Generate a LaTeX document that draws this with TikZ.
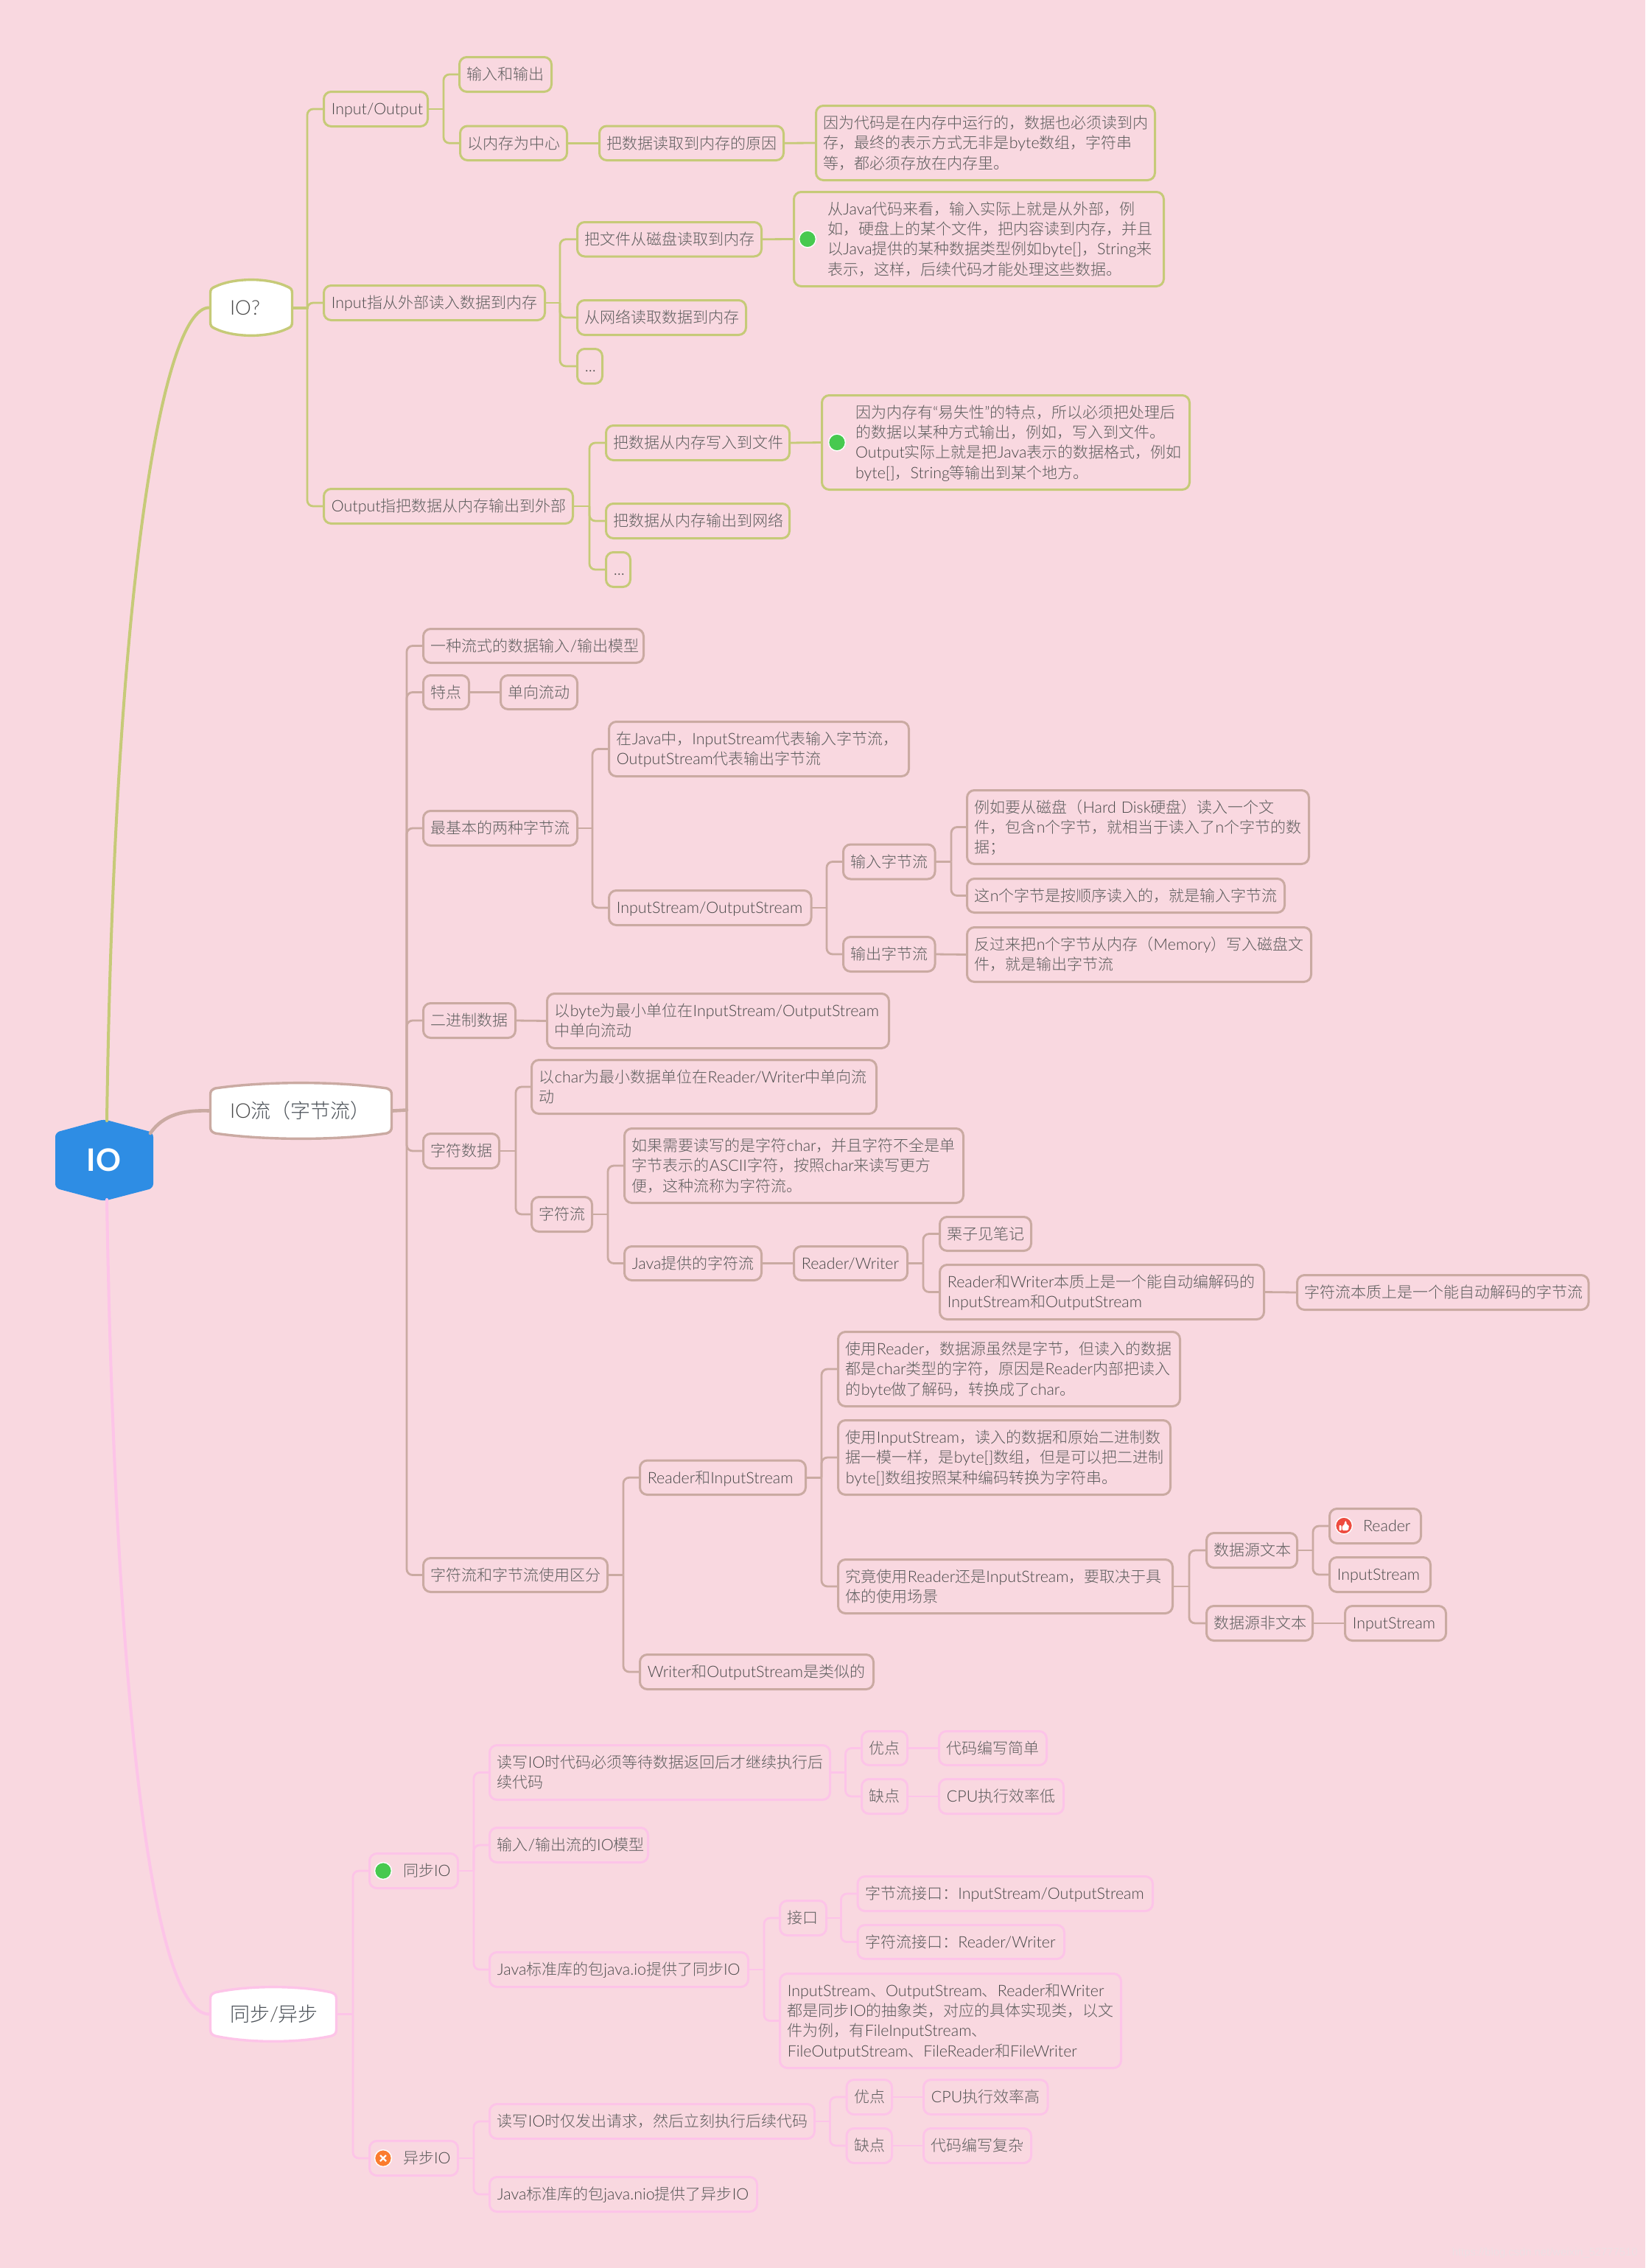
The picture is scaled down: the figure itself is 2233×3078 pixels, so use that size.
\documentclass[tikz,border=0pt]{standalone}
\usepackage{fontspec}
\setmainfont{Noto Sans CJK SC Light}
\newfontfamily\latf[Scale=1.02]{Lato Light}
\newfontfamily\latb{Lato}
\newfontfamily\wmf{Liberation Sans}
\definecolor{latcol}{HTML}{484848}
\newcommand\la[1]{{\latf\color{latcol}#1}}
\newcommand\ind{\hspace*{17.6pt}}
\hyphenpenalty=10000 \exhyphenpenalty=10000 \tolerance=9999 \hbadness=10000 \hfuzz=200pt
\definecolor{bgpink}{HTML}{F9D8E0}
\definecolor{mapgreen}{HTML}{C6CA78}
\definecolor{mapbrown}{HTML}{CAAAA2}
\definecolor{mappink}{HTML}{FDC4E8}
\definecolor{txt}{HTML}{5E5E5E}
\definecolor{toptxt}{HTML}{4B5158}
\definecolor{dotgreen}{HTML}{47C94F}
\definecolor{dotred}{HTML}{EE4B3F}
\definecolor{dotorange}{HTML}{FB7C2E}
\definecolor{hexblue}{HTML}{2E8DE4}
\definecolor{wmark}{HTML}{EEDFE4}
\newcommand\mystrut{\rule[-2.9pt]{0pt}{13.6pt}}
\tikzset{
  box/.style={draw=\cc,line width=1.5pt,rounded corners=5pt,inner ysep=0pt,inner xsep=5.2pt,outer sep=0pt,
    align=left,text=txt,font=\fontsize{10.5}{13.6}\selectfont,
    execute at begin node={\mystrut},execute at end node={\mystrut}},
  conn/.style={draw=\cc,line width=1.4pt},
  rootlink/.style={draw=\cc,line width=2pt,line cap=round},
  topicshape/.style={draw=\cc,fill=white,line width=1.7pt},
  topic/.style={inner ysep=0pt,inner xsep=14pt,outer sep=0pt,align=left,text=toptxt,
    font=\fontsize{13.5}{16}\selectfont},
  dot/.style={draw=white,line width=0.7pt},
}
% box: name, x1,y1,x2,y2, text (outer edges, in reference pixels)
\newcommand\bx[6]{%
  \pgfmathsetmacro\bxw{(#4-#2-3)*0.5-10.4}%
  \pgfmathsetmacro\bxh{(#5-#3-3)*0.5}%
  \pgfmathsetmacro\bxcx{(#2+#4)/2}%
  \pgfmathsetmacro\bxcy{(#3+#5)/2}%
  \node[box,text width=\bxw pt,minimum height=\bxh pt] (#1) at (\bxcx,\bxcy) {#6};}
% topic: name, x1,y1,x2,y2,c, text
\newcommand\tp[7]{%
  \pgfmathsetmacro\bxw{(#4-#2)*0.5-28}%
  \pgfmathsetmacro\bxh{(#5-#3)*0.5}%
  \pgfmathsetmacro\bxcx{(#2+#4)/2}%
  \pgfmathsetmacro\bxcy{(#3+#5)/2}%
  \draw[topicshape]
    ({#2+1.5},{#3+#6+8}) .. controls ({#2+1.5},{#3+#6+3}) and ({#2+3},{#3+#6+1}) .. ({#2+8},{#3+#6-1})
    .. controls ({#2+0.3*(#4-#2)},{#3+1.5-(#6-3)/3}) and ({#4-0.3*(#4-#2)},{#3+1.5-(#6-3)/3}) .. ({#4-8},{#3+#6-1})
    .. controls ({#4-3},{#3+#6+1}) and ({#4-1.5},{#3+#6+3}) .. ({#4-1.5},{#3+#6+8})
    -- ({#4-1.5},{#5-#6-8})
    .. controls ({#4-1.5},{#5-#6-3}) and ({#4-3},{#5-#6-1}) .. ({#4-8},{#5-#6+1})
    .. controls ({#4-0.3*(#4-#2)},{#5-1.5+(#6-3)/3}) and ({#2+0.3*(#4-#2)},{#5-1.5+(#6-3)/3}) .. ({#2+8},{#5-#6+1})
    .. controls ({#2+3},{#5-#6-1}) and ({#2+1.5},{#5-#6-3}) .. ({#2+1.5},{#5-#6-8}) -- cycle;
  \node[topic,text width=\bxw pt,minimum height=\bxh pt] (#1) at (\bxcx,\bxcy) {#7};}
% link: parent, child, spine x
\newcommand\lk[3]{%
  \coordinate (tmpx) at (#3,0);
  \draw[conn] (#1.east) -- (#1.east -| tmpx);
  \draw[conn,rounded corners=4pt] (#1.east -| tmpx) -- (#2.west -| tmpx) -- (#2.west);}
\newcommand\st[2]{\draw[conn] (#1.east) -- (#2.west);}
\newcommand\gdot[2]{\filldraw[dot,fill=dotgreen] (#1,#2) circle (5.7pt);}
\begin{document}
\begin{tikzpicture}[x=0.5pt,y=-0.5pt]
\fill[bgpink] (0,0) rectangle (2233,3078);
\useasboundingbox (0,0) rectangle (2233,3078);

% central node
\fill[hexblue,rounded corners=3pt] (141,1519) -- (208,1537) -- (208,1612.5) -- (141,1630) -- (75,1612.5) -- (75,1537) -- cycle;
\node[minimum width=66pt,minimum height=53.5pt,inner sep=0pt,outer sep=0pt,text=white,font=\latb\bfseries\fontsize{21}{24}\selectfont] (io) at (141,1574.5) {IO};

% ===== green branch
\def\cc{mapgreen}
\tp{t1}{284}{378}{398}{457}{12}{\la{IO?}}
\draw[rootlink] ([xshift=2pt]io.north) .. controls (155,800) and (220,417) .. (t1.west);
\bx{a0}{438}{123}{582}{173}{\la{Input/Output}}
\bx{a1}{622}{76}{750}{126}{输入和输出}
\bx{a2}{623}{169.5}{771}{219}{以内存为中心}
\bx{a3}{812}{169.5}{1065}{219}{把数据读取到内存的原因}
\bx{a4}{1106}{142}{1569}{246}{因为代码是在内存中运行的，数据也必须读到内\\存，最终的表示方式无非是\la{byte}数组，字符串\\等，都必须存放在内存里。}
\bx{b0}{438}{386}{741}{436}{\la{Input}指从外部读入数据到内存}
\bx{b1}{782}{300}{1035}{349.5}{把文件从磁盘读取到内存}
\bx{b1d}{1076}{259}{1581}{390}{\ind 从\la{Java}代码来看，输入实际上就是从外部，例\\\ind 如，硬盘上的某个文件，把内容读到内存，并且\\\ind 以\la{Java}提供的某种数据类型例如\la{byte[]}，\la{String}来\\\ind 表示，这样，后续代码才能处理这些数据。}
\gdot{1096}{324.5}
\bx{b2}{782}{406}{1014}{456}{从网络读取数据到内存}
\bx{b3}{782}{472}{819}{522}{\la{...}}
\bx{c0}{438}{662}{779}{712}{\la{Output}指把数据从内存输出到外部}
\bx{c1}{821}{576}{1073}{626}{把数据从内存写入到文件}
\bx{c1d}{1114}{535}{1616}{666}{\ind 因为内存有\la{“}易失性\la{”}的特点，所以必须把处理后\\\ind 的数据以某种方式输出，例如，写入到文件。\\\ind \la{Output}实际上就是把\la{Java}表示的数据格式，例如\\\ind \la{byte[]}，\la{String}等输出到某个地方。}
\gdot{1136}{600.5}
\bx{c2}{821}{682}{1073}{732}{把数据从内存输出到网络}
\bx{c3}{821}{748}{857}{798}{\la{...}}
\draw[rootlink] (t1.east) -- (417,417.5);
\lk{t1}{a0}{417}\lk{t1}{b0}{417}\lk{t1}{c0}{417}
\lk{a0}{a1}{602}\lk{a0}{a2}{602}\st{a2}{a3}\st{a3}{a4}
\lk{b0}{b1}{760}\lk{b0}{b2}{760}\lk{b0}{b3}{760}\st{b1}{b1d}
\lk{c0}{c1}{800}\lk{c0}{c2}{800}\lk{c0}{c3}{800}\st{c1}{c1d}

% ===== brown branch
\def\cc{mapbrown}
\tp{t2}{284}{1468}{533}{1547}{10}{\la{IO}流（字节流）}
\draw[rootlink,line width=2.3pt] ([xshift=31.5pt,yshift=45pt]io.south) .. controls (222,1512) and (250,1506.5) .. (t2.west);
\bx{s1}{573}{852}{875}{901}{一种流式的数据输入\la{/}输出模型}
\bx{s2}{573}{915}{638}{964}{特点}
\bx{s2a}{678}{915}{785}{964}{单向流动}
\bx{s3}{573}{1099}{785}{1149}{最基本的两种字节流}
\bx{s3a}{825}{978}{1235}{1055}{在\la{Java}中，\la{InputStream}代表输入字节流，\\\la{OutputStream}代表输出字节流}
\bx{s3b}{825}{1207}{1102.5}{1257}{\la{InputStream/OutputStream}}
\bx{inb}{1143}{1144.5}{1270.5}{1194.5}{输入字节流}
\bx{outb}{1143}{1270}{1270.5}{1320}{输出字节流}
\bx{inb1}{1311}{1071}{1778}{1174}{例如要从磁盘（\la{Hard~Disk}硬盘）读入一个文\\件，包含\la{n}个字节，就相当于读入了\la{n}个字节的数\\据；}
\bx{inb2}{1311}{1191}{1745}{1240}{这\la{n}个字节是按顺序读入的，就是输入字节流}
\bx{outb1}{1311}{1257}{1781}{1334}{反过来把\la{n}个字节从内存（\la{Memory}）写入磁盘文\\件，就是输出字节流}
\bx{s4}{573}{1360}{701}{1410}{二进制数据}
\bx{s4a}{741}{1347}{1208}{1424}{以\la{byte}为最小单位在\la{InputStream/OutputStream}\\中单向流动}
\bx{s5}{573}{1537}{679}{1587}{字符数据}
\bx{s5a}{720}{1437}{1191}{1513}{以\la{char}为最小数据单位在\la{Reader/Writer}中单向流\\动}
\bx{s5b}{720}{1623}{805}{1673}{字符流}
\bx{s5c}{846}{1530}{1309}{1634}{如果需要读写的是字符\la{char}，并且字符不全是单\\字节表示的\la{ASCII}字符，按照\la{char}来读写更方\\便，这种流称为字符流。}
\bx{s5d}{846}{1690}{1035}{1739}{\la{Java}提供的字符流}
\bx{s5e}{1076}{1690}{1233}{1739}{\la{Reader/Writer}}
\bx{s5f}{1274}{1650}{1401}{1699}{栗子见笔记}
\bx{s5g}{1274}{1715}{1717}{1792}{\la{Reader}和\la{Writer}本质上是一个能自动编解码的\\\la{InputStream}和\la{OutputStream}}
\bx{s5h}{1759}{1729}{2157.5}{1779}{字符流本质上是一个能自动解码的字节流}
\bx{s6}{573}{2113}{826}{2162}{字符流和字节流使用区分}
\bx{s6a}{867}{1980.5}{1095}{2030}{\la{Reader}和\la{InputStream}}
\bx{s6b}{867}{2244}{1187}{2294}{\la{Writer}和\la{OutputStream}是类似的}
\bx{r1}{1136}{1806}{1603}{1910}{使用\la{Reader}，数据源虽然是字节，但读入的数据\\都是\la{char}类型的字符，原因是\la{Reader}内部把读入\\的\la{byte}做了解码，转换成了\la{char}。}
\bx{r2}{1136}{1926}{1590}{2030}{使用\la{InputStream}，读入的数据和原始二进制数\\据一模一样，是\la{byte[]}数组，但是可以把二进制\\\la{byte[]}数组按照某种编码转换为字符串。}
\bx{r3}{1136}{2115}{1593}{2191}{究竟使用\la{Reader}还是\la{InputStream}，要取决于具\\体的使用场景}
\bx{ds1}{1636}{2079}{1762}{2129}{数据源文本}
\bx{ds2}{1636}{2178}{1783}{2228}{数据源非文本}
\bx{rd}{1803}{2046}{1930}{2096}{\ind\la{Reader}}
\filldraw[dot,fill=dotred] (1824,2070.5) circle (5.7pt);
\fill[white,rounded corners=0.4pt] (1817.5,2070) rectangle (1820.5,2077);
\fill[white,rounded corners=0.8pt] (1821.5,2070.5) -- (1824,2070.5) -- (1825.5,2064) -- (1827.5,2064.5) -- (1827.5,2069.5) -- (1831,2069.5) -- (1830,2077) -- (1821.5,2077) -- cycle;
\bx{is1}{1803}{2112}{1943}{2162}{\la{InputStream}}
\bx{is2}{1824}{2178}{1964}{2228}{\la{InputStream}}
\draw[rootlink,line width=2.3pt] (t2.east) -- (552,1506.5);
\lk{t2}{s1}{552}\lk{t2}{s2}{552}\lk{t2}{s3}{552}\lk{t2}{s4}{552}\lk{t2}{s5}{552}\lk{t2}{s6}{552}
\st{s2}{s2a}
\lk{s3}{s3a}{804}\lk{s3}{s3b}{804}
\lk{s3b}{inb}{1122}\lk{s3b}{outb}{1122}
\lk{inb}{inb1}{1291}\lk{inb}{inb2}{1291}\st{outb}{outb1}
\st{s4}{s4a}
\lk{s5}{s5a}{700}\lk{s5}{s5b}{700}
\lk{s5b}{s5c}{825}\lk{s5b}{s5d}{825}\st{s5d}{s5e}
\lk{s5e}{s5f}{1253}\lk{s5e}{s5g}{1253}\st{s5g}{s5h}
\lk{s6}{s6a}{846}\lk{s6}{s6b}{846}
\lk{s6a}{r1}{1115}\lk{s6a}{r2}{1115}\lk{s6a}{r3}{1115}
\lk{r3}{ds1}{1614}\lk{r3}{ds2}{1614}
\lk{ds1}{rd}{1782}\lk{ds1}{is1}{1782}\st{ds2}{is2}

% ===== pink branch
\def\cc{mappink}
\tp{t3}{284}{2695}{458}{2772}{10}{同步\la{/}异步}
\draw[rootlink] ([xshift=2pt]io.south) .. controls (155,2240) and (200,2733.5) .. (t3.west);
\bx{sy}{500}{2514}{623}{2564}{\ind 同步\la{IO}}
\gdot{520}{2539}
\bx{asy}{500}{2904}{623}{2954}{\ind 异步\la{IO}}
\filldraw[dot,fill=dotorange] (520,2929) circle (5.7pt);
\draw[white,line width=1.1pt] (516,2925) -- (524,2933) (524,2925) -- (516,2933);
\bx{y1}{663}{2367}{1128}{2444}{读写\la{IO}时代码必须等待数据返回后才继续执行后\\续代码}
\bx{y1a}{1168}{2348}{1233}{2397}{优点}
\bx{y1b}{1273}{2348}{1422}{2397}{代码编写简单}
\bx{y1c}{1168}{2413}{1233}{2463}{缺点}
\bx{y1d}{1273}{2413}{1445}{2463}{\la{CPU}执行效率低}
\bx{y2}{663}{2479}{881}{2529}{输入\la{/}输出流的\la{IO}模型}
\bx{y3}{663}{2648}{1017}{2698}{\la{Java}标准库的包\la{java.io}提供了同步\la{IO}}
\bx{y3a}{1057}{2578}{1123}{2628}{接口}
\bx{y3b}{1162.5}{2545}{1566}{2595}{字节流接口：\la{InputStream/OutputStream}}
\bx{y3c}{1162.5}{2611}{1446}{2660}{字符流接口：\la{Reader/Writer}}
\bx{y3d}{1057}{2677}{1523}{2808}{\la{InputStream}、\la{OutputStream}、\la{Reader}和\la{Writer}\\都是同步\la{IO}的抽象类，对应的具体实现类，以文\\件为例，有\la{FileInputStream}、\\\la{FileOutputStream}、\la{FileReader}和\la{FileWriter}}
\bx{z1}{663}{2854}{1107}{2904}{读写\la{IO}时仅发出请求，然后立刻执行后续代码}
\bx{z1a}{1147.5}{2821}{1212}{2871}{优点}
\bx{z1b}{1252}{2821}{1423.5}{2871}{\la{CPU}执行效率高}
\bx{z1c}{1147.5}{2887}{1212}{2937}{缺点}
\bx{z1d}{1252}{2887}{1401}{2937}{代码编写复杂}
\bx{z2}{663}{2953}{1029}{3003}{\la{Java}标准库的包\la{java.nio}提供了异步\la{IO}}
\lk{t3}{sy}{479}\lk{t3}{asy}{479}
\lk{sy}{y1}{643}\lk{sy}{y2}{643}\lk{sy}{y3}{643}
\lk{y1}{y1a}{1147.5}\lk{y1}{y1c}{1147.5}\st{y1a}{y1b}\st{y1c}{y1d}
\lk{y3}{y3a}{1037}\lk{y3}{y3d}{1037}
\lk{y3a}{y3b}{1141.5}\lk{y3a}{y3c}{1141.5}
\lk{asy}{z1}{643}\lk{asy}{z2}{643}
\lk{z1}{z1a}{1126.5}\lk{z1}{z1c}{1126.5}\st{z1a}{z1b}\st{z1c}{z1d}

% watermark
\node[anchor=east,inner sep=0pt,text=wmark,font=\wmf\fontsize{7.4}{9}\selectfont] (wm) at (2223,3058) {https://blog.csdn.net/weixin\_52777510};
\end{tikzpicture}
\end{document}
